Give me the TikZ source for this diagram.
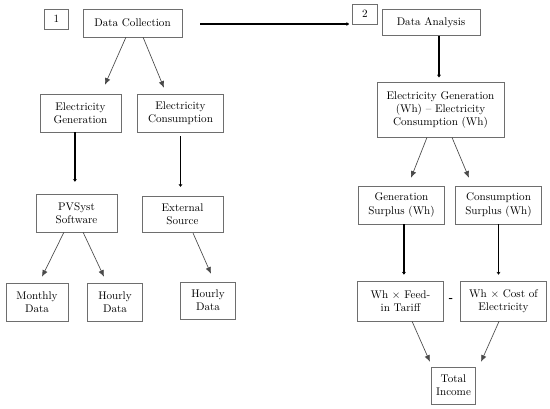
\documentclass[tikz,border=0pt]{standalone}
\usepackage{tikz}
\usetikzlibrary{arrows,arrows.meta,positioning,calc}
\definecolor{boxline}{HTML}{6E6E6E}
\definecolor{arrline}{HTML}{4A4A4A}
\tikzset{
  pbox/.style={rectangle, draw=boxline, line width=0.6pt, fill=white,
               text=black, inner sep=1pt, font=\normalsize, align=center},
  pnum/.style={rectangle, draw=boxline, line width=0.6pt, fill=white,
               text=black, minimum width=22pt, minimum height=18pt, font=\normalsize},
  parr/.style={-{Latex[length=6pt,width=5pt]}, line width=0.6pt, color=arrline},
  pthick/.style={-{Stealth[length=2.5pt,width=3.5pt]}, line width=1.2pt, color=black},
}
\begin{document}
\begin{tikzpicture}[x=0.9pt, y=-0.9pt]
  \useasboundingbox (0,0) rectangle (550,409);

  % Step 1
  \node[pnum] (num1) at (56.5,19) {1};
  \node[pbox, minimum width=89pt, minimum height=25pt] (dc) at (132.5,23) {Data Collection};
  \node[pbox, minimum width=73pt, minimum height=34pt] (eg) at (80.5,113) {Electricity\\Generation};
  \node[pbox, minimum width=77pt, minimum height=34pt] (ec) at (180.5,113) {Electricity\\Consumption};
  \node[pbox, minimum width=73pt, minimum height=34pt] (pv) at (76.5,213) {PVSyst\\Software};
  \node[pbox, minimum width=73pt, minimum height=33pt] (ext) at (182.5,214.5) {External\\Source};
  \node[pbox, minimum width=56pt, minimum height=34pt] (mon) at (37,302) {Monthly\\Data};
  \node[pbox, minimum width=50pt, minimum height=34pt] (hr1) at (115,302) {Hourly\\Data};
  \node[pbox, minimum width=50pt, minimum height=33pt] (hr2) at (208,300.5) {Hourly\\Data};

  % Step 2
  \node[pnum] (num2) at (365,14) {2};
  \node[pbox, minimum width=88pt, minimum height=24pt] (da) at (431,22.5) {Data Analysis};
  \node[pbox, minimum width=114pt, minimum height=49pt] (diff) at (440.5,110)
       {Electricity Generation\\(Wh) -- Electricity\\Consumption (Wh)};
  \node[pbox, minimum width=77pt, minimum height=34pt] (gs) at (401.5,205) {Generation\\Surplus (Wh)};
  \node[pbox, minimum width=77pt, minimum height=34pt] (cs) at (498.5,205) {Consumption\\Surplus (Wh)};
  \node[pbox, minimum width=77pt, minimum height=36pt] (fit) at (400.5,301) {Wh $\times$ Feed-\\in Tariff};
  \node[pbox, minimum width=77pt, minimum height=36pt] (cost) at (503.5,301) {Wh $\times$ Cost of\\Electricity};
  \node[font=\bfseries] (minus) at (451,300) {-};
  \node[pbox, minimum width=40pt, minimum height=33pt] (tot) at (453.5,385.5) {Total\\Income};

  % Step 1 arrows
  \draw[parr] ([xshift=-5.9pt]dc.south) -- ([xshift=22pt,yshift=8.1pt]eg.north);
  \draw[parr] ([xshift=9.5pt]dc.south) -- ([xshift=-14.9pt,yshift=5.4pt]ec.north);
  \draw[pthick, shorten >=10.8pt] ([xshift=-5pt]eg.south) -- ([xshift=-5pt]eg.south |- pv.north);
  \draw[pthick, shorten <=3.6pt, shorten >=8.1pt] (ec.south) -- (ec.south |- ext.north);
  \draw[parr] ([xshift=-11.3pt]pv.south) -- ([xshift=4.5pt,yshift=5.4pt]mon.north);
  \draw[parr] ([xshift=5.9pt]pv.south) -- ([xshift=-9.9pt,yshift=5.4pt]hr1.north);
  \draw[parr] ([xshift=9.5pt]ext.south) -- ([xshift=2.7pt,yshift=7.2pt]hr2.north);

  % Link to step 2
  \draw[pthick, shorten <=16pt, shorten >=3pt] ([yshift=-0.9pt]dc.east) -- ([yshift=-0.9pt]dc.east -| num2.west);

  % Step 2 arrows
  \draw[pthick, shorten >=4.5pt] ([xshift=7.2pt]da.south) -- ([xshift=7.2pt]da.south |- diff.north);
  \draw[parr] ([xshift=-12.2pt]diff.south) -- ([xshift=8.6pt,yshift=7.2pt]gs.north);
  \draw[parr] ([xshift=10.4pt]diff.south) -- ([xshift=-26.6pt,yshift=7.2pt]cs.north);
  \draw[pthick, shorten >=5.4pt] ([xshift=2.2pt]gs.south) -- ([xshift=2.2pt]gs.south |- fit.north);
  \draw[pthick, shorten >=5.4pt] (cs.south) -- (cs.south |- cost.north);
  \draw[parr] ([xshift=10.4pt]fit.south) -- ([xshift=-21.2pt,yshift=4.5pt]tot.north);
  \draw[parr] ([xshift=-4pt]cost.south) -- ([xshift=24.8pt,yshift=4.5pt]tot.north);
\end{tikzpicture}
\end{document}
